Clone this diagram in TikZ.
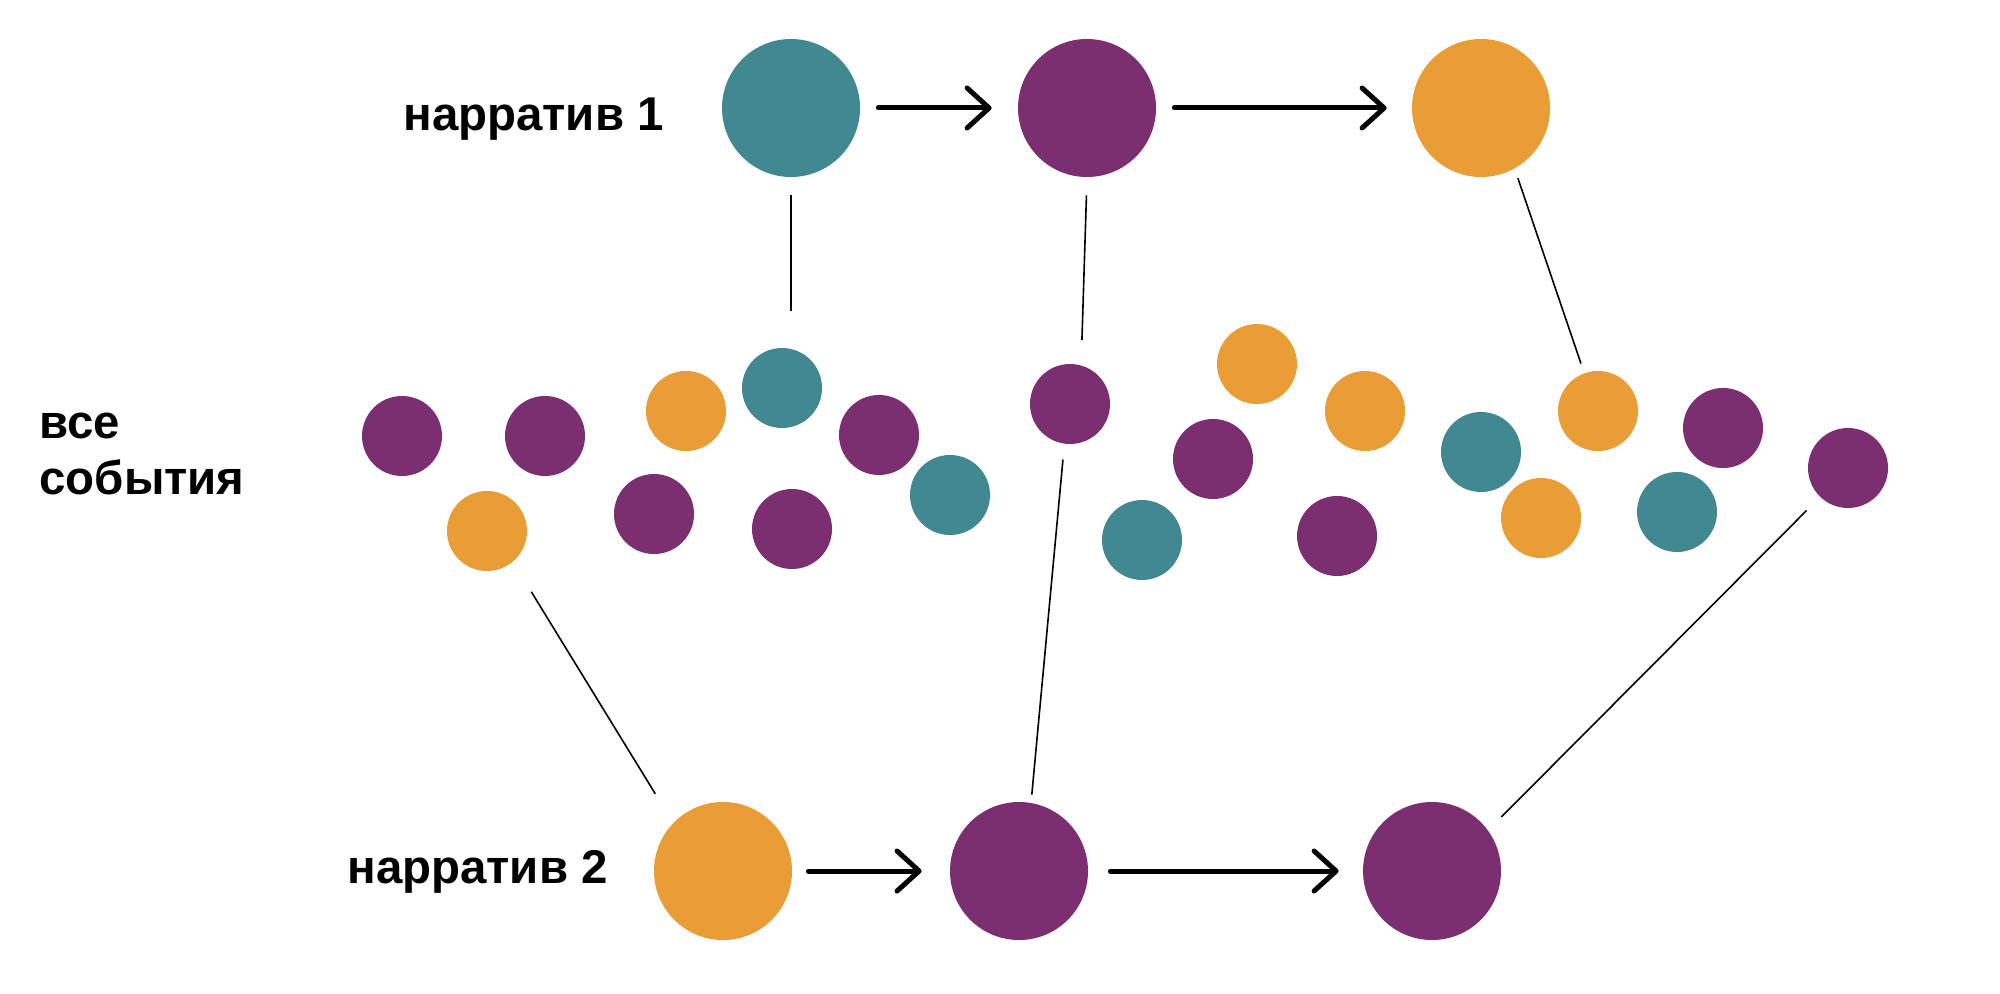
\documentclass[tikz,border=0pt]{standalone}
\usepackage{fontspec}
\setmainfont{Liberation Sans}
\usetikzlibrary{arrows.meta}
\definecolor{cteal}{HTML}{418890}
\definecolor{cpurple}{HTML}{7B2E70}
\definecolor{corange}{HTML}{E89D36}
\tikzset{
  bigdot/.style={circle, inner sep=0pt, minimum size=69pt, draw=none},
  smalldot/.style={circle, inner sep=0pt, minimum size=40pt, draw=none},
  flowarrow/.style={line width=2.5pt, line cap=round,
    -{Straight Barb[length=11pt,width=20pt,line cap=round,line join=round]},
    shorten <=9pt, shorten >=13pt},
  link/.style={line width=0.8pt, black},
  lbl/.style={font=\fontsize{23.7}{28}\selectfont\bfseries, inner sep=0pt, align=left}
}
\begin{document}
\begin{tikzpicture}[x=0.5pt,y=-0.5pt]
\fill[white] (0,0) rectangle (2000,994);
\path[use as bounding box] (0,0) rectangle (2000,994);

% labels
\node[lbl, anchor=base west] (t1) at (403,131) {нарратив 1};
\node[lbl, anchor=base west] (t2) at (347,883) {нарратив 2};
\node[lbl, anchor=base west] (t3) at (39,494) {все\\события};

% narrative 1
\node[bigdot, fill=cteal]   (n1a) at (791,108) {};
\node[bigdot, fill=cpurple] (n1b) at (1087,108) {};
\node[bigdot, fill=corange] (n1c) at (1481,108) {};
% narrative 2
\node[bigdot, fill=corange] (n2a) at (723,871) {};
\node[bigdot, fill=cpurple] (n2b) at (1019,871) {};
\node[bigdot, fill=cpurple] (n2c) at (1432,871) {};

% all events
\node[smalldot, fill=cpurple] (s1)  at (402,436) {};
\node[smalldot, fill=cpurple] (s2)  at (545,436) {};
\node[smalldot, fill=corange] (s3)  at (487,531) {};
\node[smalldot, fill=corange] (s4)  at (686,411) {};
\node[smalldot, fill=cteal]   (s5)  at (782,388) {};
\node[smalldot, fill=cpurple] (s6)  at (654,514) {};
\node[smalldot, fill=cpurple] (s7)  at (792,529) {};
\node[smalldot, fill=cpurple] (s8)  at (879,435) {};
\node[smalldot, fill=cteal]   (s9)  at (950,495) {};
\node[smalldot, fill=cpurple] (s10) at (1070,404) {};
\node[smalldot, fill=corange] (s11) at (1257,364) {};
\node[smalldot, fill=cpurple] (s12) at (1213,459) {};
\node[smalldot, fill=cteal]   (s13) at (1142,540) {};
\node[smalldot, fill=corange] (s14) at (1365,411) {};
\node[smalldot, fill=cpurple] (s15) at (1337,536) {};
\node[smalldot, fill=cteal]   (s16) at (1481,452) {};
\node[smalldot, fill=corange] (s17) at (1598,411) {};
\node[smalldot, fill=corange] (s18) at (1541,518) {};
\node[smalldot, fill=cpurple] (s19) at (1723,428) {};
\node[smalldot, fill=cteal]   (s20) at (1677,512) {};
\node[smalldot, fill=cpurple] (s21) at (1848,468) {};

% arrows
\draw[flowarrow] (n1a) -- (n1b);
\draw[flowarrow, shorten >=12.5pt] (n1b) -- (n1c);
\draw[flowarrow, shorten <=8pt, shorten >=14pt] (n2a) -- (n2b);
\draw[flowarrow, shorten <=11pt, shorten >=12pt] (n2b) -- (n2c);

% links
\draw[link, shorten <=9pt, shorten >=18.5pt] (n1a.south) -- (n1a.south |- s5.north);
\draw[link, shorten <=9pt, shorten >=12.5pt] (n1b.south) -- (s10.74);
\draw[link, shorten <=5pt, shorten >=5pt] (n1c.-61.5) -- (s17.110);
\draw[link, shorten <=17.5pt, shorten >=17pt] (s3.-50) -- (n2a.136);
\draw[link, shorten <=7.8pt, shorten >=4pt] (s10.-98) -- (n2b.80);
\draw[link, shorten <=9.5pt, shorten >=9.3pt] (s21.-134) -- (n2c.36);
\end{tikzpicture}
\end{document}
